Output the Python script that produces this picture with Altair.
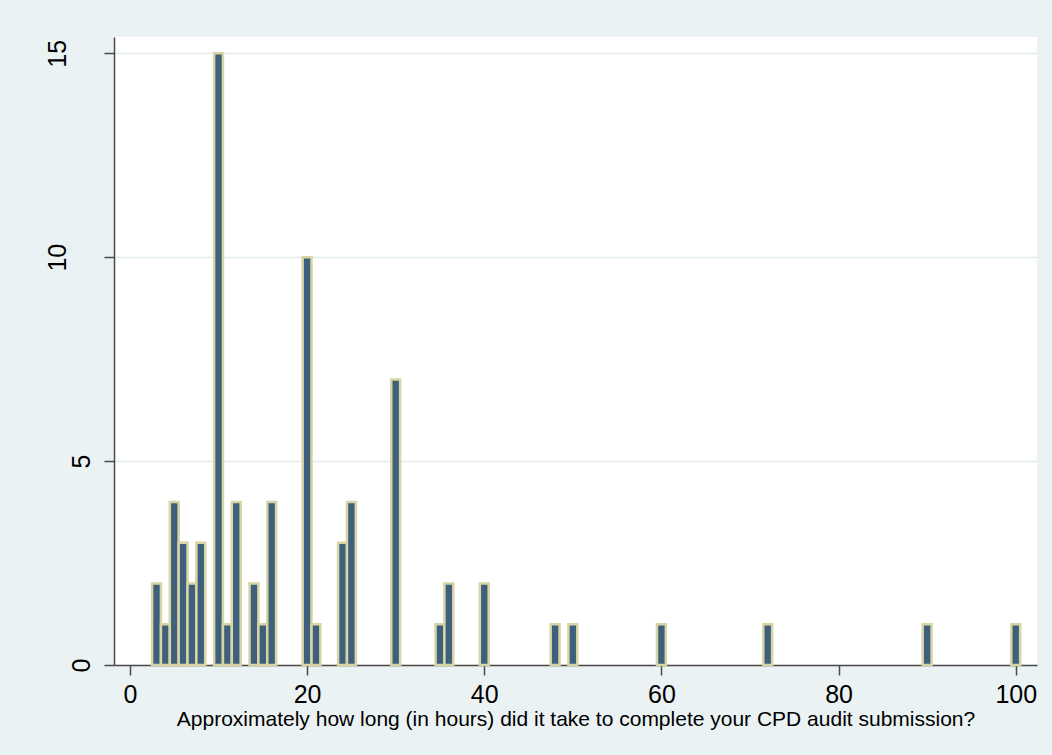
import altair as alt
import pandas as pd

hours = [3, 4, 5, 6, 7, 8, 10, 11, 12, 14, 15, 16, 20, 21, 24, 25, 30, 35, 36, 40, 48, 50, 60, 72, 90, 100]
freq = [2, 1, 4, 3, 2, 3, 15, 1, 4, 2, 1, 4, 10, 1, 3, 4, 7, 1, 2, 2, 1, 1, 1, 1, 1, 1]
x_ticks = [0, 20, 40, 60, 80, 100]
y_ticks = [0, 5, 10, 15]
x_title = "Approximately how long (in hours) did it take to complete your CPD audit submission?"

df = pd.DataFrame({"hours": hours, "freq": freq})

FONT = "Liberation Sans"
BG = "#EAF2F3"

bars = alt.Chart(df).transform_calculate(
    x0="datum.hours - 0.5", x1="datum.hours + 0.5"
).mark_rect(
    fill="#3E607C", stroke="#D9D4A3", strokeWidth=2.5
).encode(
    x=alt.X("x0:Q",
            scale=alt.Scale(domain=[-1.8, 102.4], nice=False, zero=False),
            axis=alt.Axis(values=x_ticks, title=x_title, grid=False,
                          labelFontSize=25, titleFontSize=21, titleFontWeight="normal",
                          labelPadding=7, titlePadding=1, tickSize=10,
                          domainColor="#4A4A4A", tickColor="#4A4A4A", domainWidth=1.5,
                          tickWidth=1.5, labelColor="black", titleColor="black",
                          labelFont=FONT, titleFont=FONT)),
    x2="x1:Q",
    y=alt.Y("freq:Q",
            scale=alt.Scale(domain=[0, 15.4], nice=False),
            axis=alt.Axis(values=y_ticks, title=None, grid=True, gridColor="#E1ECEF",
                          gridWidth=1.5, labelAngle=-90, labelAlign="center",
                          labelBaseline="bottom", labelFontSize=25,
                          labelPadding={"condition": {"test": "datum.value >= 10", "value": 34},
                                        "value": 10},
                          tickSize=10, domainColor="#4A4A4A", tickColor="#4A4A4A",
                          domainWidth=1.5, tickWidth=1.5, labelColor="black",
                          labelFont=FONT)),
    y2=alt.Y2(datum=0),
)

chart = bars.properties(
    width=923, height=628,
    autosize=alt.AutoSizeParams(type="none"),
    padding={"left": 114, "top": 37, "right": 15, "bottom": 90},
    background=BG,
).configure_view(fill="white", stroke=None)

chart.save("out.html", embed_options={"renderer": "svg", "actions": False})
